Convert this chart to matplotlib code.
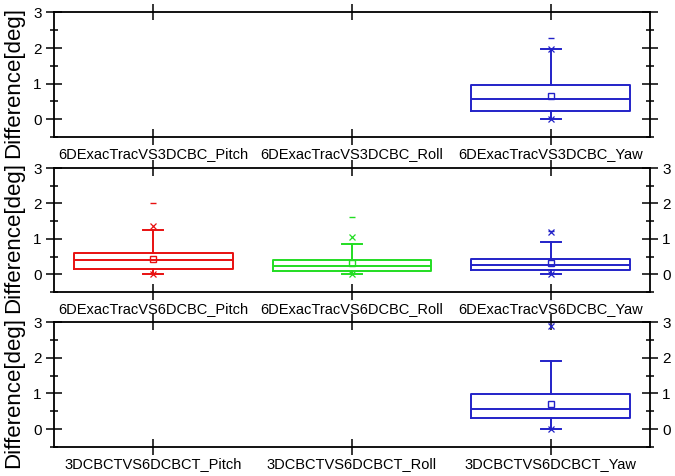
import matplotlib
matplotlib.use('Agg')
import matplotlib.pyplot as plt
from matplotlib.ticker import MultipleLocator

plt.rcParams['font.family'] = ['Liberation Sans', 'DejaVu Sans']

# category labels of the three panels
labels_top = ['6DExacTracVS3DCBC_Pitch', '6DExacTracVS3DCBC_Roll', '6DExacTracVS3DCBC_Yaw']
labels_mid = ['6DExacTracVS6DCBC_Pitch', '6DExacTracVS6DCBC_Roll', '6DExacTracVS6DCBC_Yaw']
labels_bot = ['3DCBCTVS6DCBCT_Pitch', '3DCBCTVS6DCBCT_Roll', '3DCBCTVS6DCBCT_Yaw']

# box statistics per panel (only categories that have data)
# position, q1, median, q3, mean, whisker low, whisker high, p1, p99, max
top_pos = [3]
top_q1 = [0.23]
top_med = [0.58]
top_q3 = [0.96]
top_mean = [0.64]
top_wlo = [0.0]
top_whi = [1.97]
top_p1 = [0.01]
top_p99 = [1.97]
top_max = [2.28]

mid_pos = [1, 2, 3]
mid_q1 = [0.14, 0.09, 0.11]
mid_med = [0.40, 0.24, 0.27]
mid_q3 = [0.59, 0.40, 0.43]
mid_mean = [0.43, 0.31, 0.33]
mid_wlo = [0.0, 0.0, 0.0]
mid_whi = [1.24, 0.86, 0.92]
mid_p1 = [0.02, 0.02, 0.02]
mid_p99 = [1.36, 1.05, 1.19]
mid_max = [2.0, 1.62, 1.22]

bot_pos = [3]
bot_q1 = [0.30]
bot_med = [0.57]
bot_q3 = [0.99]
bot_mean = [0.69]
bot_wlo = [0.0]
bot_whi = [1.91]
bot_p1 = [0.01]
bot_p99 = [2.9]
bot_max = [3.0]

colors = {1: '#e81010', 2: '#22dd22', 3: '#2222c8'}

W, H = 675, 476
fig = plt.figure(figsize=(6.75, 4.76), dpi=100)


def make_axes(top_px, bot_px):
    return fig.add_axes([54 / W, 1 - bot_px / H, (650 - 54) / W, (bot_px - top_px) / H])


def draw_panel(ax, labels, pos, q1, med, q3, mean, wlo, whi, p1, p99, mx, right_labels):
    for i, p in enumerate(pos):
        c = colors[p]
        st = dict(med=med[i], q1=q1[i], q3=q3[i], mean=mean[i],
                  whislo=wlo[i], whishi=whi[i], fliers=[])
        lp = dict(color=c, linewidth=1.4)
        ax.bxp([st], positions=[p], widths=0.8, capwidths=0.1, showmeans=True,
               boxprops=lp, whiskerprops=lp, capprops=lp, medianprops=lp,
               meanprops=dict(marker='s', markersize=4.5, markerfacecolor='none',
                              markeredgecolor=c, markeredgewidth=1.0),
               manage_ticks=False)
        ax.plot([p, p], [p1[i], p99[i]], linestyle='none', marker='x',
                markersize=4.5, color=c, markeredgewidth=0.9, clip_on=False)
        ax.plot([p], [mx[i]], linestyle='none', marker='_', markersize=4.5,
                color=c, markeredgewidth=1.0)

    ax.set_xlim(0.5, 3.5)
    ax.set_ylim(-0.5, 3.0)
    ax.set_xticks([1, 2, 3])
    ax.set_xticklabels(labels, fontsize=10.5)
    ax.yaxis.set_major_locator(MultipleLocator(1))
    ax.yaxis.set_minor_locator(MultipleLocator(0.5))
    ax.tick_params(axis='x', which='major', direction='inout', length=11.5, width=1.1,
                   top=True, bottom=True, pad=1.5)
    ax.tick_params(axis='y', which='major', direction='inout', length=11.5, width=1.1,
                   left=True, right=True, labelsize=11, pad=3,
                   labelright=right_labels)
    ax.tick_params(axis='y', which='minor', direction='inout', length=6, width=1.1,
                   left=True, right=True)
    for s in ax.spines.values():
        s.set_linewidth(1.3)
    ax.set_ylabel('Difference[deg]', fontsize=16)
    ax.yaxis.set_label_coords(-0.05, 0.44)


ax1 = make_axes(12.5, 137)
draw_panel(ax1, labels_top, top_pos, top_q1, top_med, top_q3, top_mean,
           top_wlo, top_whi, top_p1, top_p99, top_max, False)

ax2 = make_axes(168, 292)
draw_panel(ax2, labels_mid, mid_pos, mid_q1, mid_med, mid_q3, mid_mean,
           mid_wlo, mid_whi, mid_p1, mid_p99, mid_max, True)

ax3 = make_axes(322, 447)
draw_panel(ax3, labels_bot, bot_pos, bot_q1, bot_med, bot_q3, bot_mean,
           bot_wlo, bot_whi, bot_p1, bot_p99, bot_max, True)

fig.savefig('out.png', dpi=100)
